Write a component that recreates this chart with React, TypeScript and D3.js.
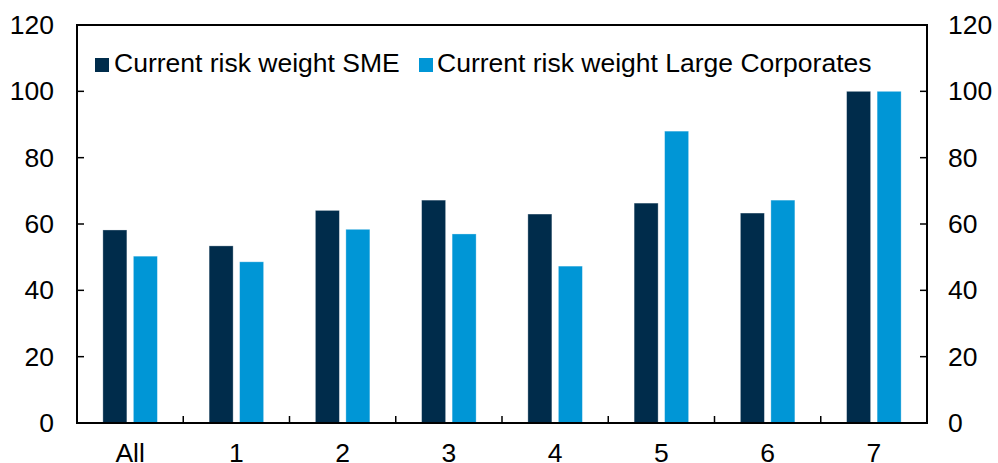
import React from "react";
import * as d3 from "d3";

const categories = ["All", "1", "2", "3", "4", "5", "6", "7"];
const smeValues = [58.2, 53.4, 64.1, 67.2, 63.0, 66.3, 63.3, 100];
const largeCorpValues = [50.3, 48.6, 58.4, 57.0, 47.3, 88.0, 67.2, 100];
const yTicks = [0, 20, 40, 60, 80, 100, 120];
const seriesNames = ["Current risk weight SME", "Current risk weight Large Corporates"];
const colors = ["#002C4B", "#0096D6"];

const W = 998, H = 463;
const left = 77, right = 927, top = 25, bottom = 423;
const font = "'Liberation Sans', Arial, sans-serif";
const fs = 26.5;

export default function App() {
  const x = d3.scaleBand<string>().domain(categories).range([left, right]).paddingInner(0).paddingOuter(0);
  const y = d3.scaleLinear().domain([0, 120]).range([bottom, top]);
  const bw = x.bandwidth();
  const barW = 24;
  const gap = 6.5;
  const series = [smeValues, largeCorpValues];

  return (
    <svg width={W} height={H} style={{ position: "absolute", left: 0, top: 0, background: "#fff" }}>
      {series.map((vals, si) =>
        vals.map((v, i) => {
          const cx = (x(categories[i]) as number) + bw / 2;
          const x0 = si === 0 ? cx - gap / 2 - barW : cx + gap / 2;
          return (
            <rect key={`${si}-${i}`} x={x0} y={y(v)} width={barW} height={y(0) - y(v)}
              fill={colors[si]} stroke="#ffffff" strokeOpacity={0.4} strokeWidth={0.8} />
          );
        })
      )}
      <rect x={left} y={top} width={right - left} height={bottom - top} fill="none" stroke="#000" strokeWidth={2} />
      {yTicks.map((t) => (
        <g key={t}>
          <line x1={left} x2={left + 7} y1={y(t)} y2={y(t)} stroke="#000" strokeWidth={1.5} />
          <line x1={right - 7} x2={right} y1={y(t)} y2={y(t)} stroke="#000" strokeWidth={1.5} />
          <text x={54} y={y(t)} textAnchor="end" dominantBaseline="central" fontFamily={font} fontSize={fs} fill="#000">{t}</text>
          <text x={948} y={y(t)} textAnchor="start" dominantBaseline="central" fontFamily={font} fontSize={fs} fill="#000">{t}</text>
        </g>
      ))}
      {categories.slice(1).map((c) => (
        <line key={c} x1={x(c)} x2={x(c)} y1={bottom} y2={bottom - 7} stroke="#000" strokeWidth={1.5} />
      ))}
      {categories.map((c) => (
        <text key={c} x={(x(c) as number) + bw / 2} y={461.5} textAnchor="middle" fontFamily={font} fontSize={fs} fill="#000">{c}</text>
      ))}
      <g>
        <rect x={95} y={58} width={14} height={14} fill={colors[0]} />
        <text x={114} y={72} fontFamily={font} fontSize={fs} fill="#000">{seriesNames[0]}</text>
        <rect x={419} y={58} width={14} height={14} fill={colors[1]} />
        <text x={437} y={72} fontFamily={font} fontSize={fs} fill="#000">{seriesNames[1]}</text>
      </g>
    </svg>
  );
}
